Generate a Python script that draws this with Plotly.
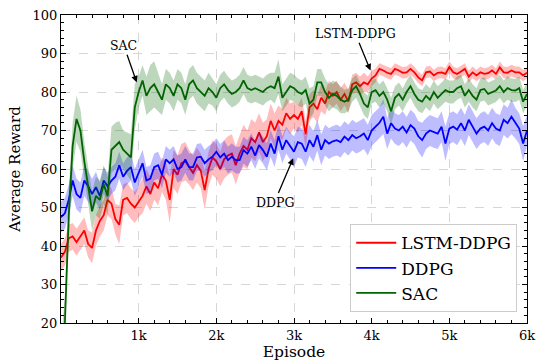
import plotly.graph_objects as go

episodes = list(range(0, 6001, 50))

sac_mean = [
    8, 20, 48, 66, 73, 70, 62, 56, 49, 53,
    52, 56, 53, 65, 66, 67, 65, 64, 63, 76,
    80, 83, 79, 81, 82, 80, 78, 82, 81, 79,
    82, 81, 78, 82, 83, 81, 80, 79, 81, 80,
    78.5, 81, 82, 80.5, 79.5, 80, 81, 83, 81, 80.5,
    81, 80.5, 80, 81, 81.5, 81, 84, 78.5, 80, 81.5,
    81, 80, 79.5, 80.5, 77, 78, 82.5, 82.5, 80, 78.5,
    79.5, 79, 78, 77.5, 78, 80.5, 81.5, 79.5, 77, 76,
    80, 80.5, 79, 80, 78, 75, 78.5, 79.5, 78, 80,
    81.5, 79.5, 78, 77.5, 79, 78, 80, 78.5, 79.5, 80.5,
    80, 80, 81, 81.5, 79, 80.5, 79, 78, 80.5, 80.8,
    79.5, 80, 80.4, 81.5, 80, 81, 80.5, 80.4, 81, 77.5,
    79.5,
]
sac_hw = [
    7, 7, 6, 6, 6, 5.5, 5, 5, 5, 5,
    5, 5, 5, 6, 6, 5.5, 5, 5.5, 6, 6,
    4, 4, 5, 6, 6, 5, 4, 4, 4, 4,
    4, 4, 4, 4, 4, 4, 4, 4, 4, 3.5,
    3.5, 3.5, 3.5, 3.5, 3.5, 3.5, 3.5, 3.5, 3.5, 3.5,
    3.5, 3.5, 3.5, 3.5, 3.5, 4, 4.5, 3.5, 3.5, 3.5,
    3.5, 3.5, 3.5, 3.5, 4, 3.5, 3.5, 3.5, 3.5, 3.5,
    3.5, 3.5, 3.5, 3, 3, 3, 3, 3, 3, 3,
    3, 3, 3, 3, 3, 3.5, 3, 3, 3, 3,
    3, 3, 3, 3, 3, 3, 3, 3, 3, 3,
    3, 3, 3, 3, 3, 3, 3, 3, 3, 3,
    3, 3, 3, 3, 3, 3, 3, 3, 3, 3,
    3,
]

lstm_mean = [
    37, 38.5, 42, 42.5, 41, 42.5, 44, 40.5, 39.5, 44,
    46.5, 48, 52, 51, 47, 45.5, 52, 52.5, 51, 50,
    51.5, 53, 55.5, 53.5, 56.5, 55, 58.5, 57, 52, 60,
    58.5, 61.5, 62, 60.5, 59, 61, 59.5, 54.5, 60, 63,
    62, 60, 62.5, 63.5, 64, 61, 64, 66, 65, 68,
    67, 69.5, 67, 68.5, 72.5, 70, 72.5, 71.5, 74.5, 73,
    74, 73, 75, 69, 76, 77, 75.5, 78.5, 77, 80,
    79, 80, 78, 79.5, 77.5, 82, 82.5, 81.5, 82.5, 82,
    83.5, 84.3, 86, 85.6, 85, 84.7, 86, 85.6, 85, 85.1,
    86, 85.1, 83.8, 83, 85.1, 85.3, 84.3, 85, 85.1, 84.7,
    86.5, 85.1, 84.7, 85.3, 86, 84, 85.1, 84.3, 85.1, 84.7,
    84.9, 85.6, 84.7, 86.4, 85.1, 85, 85.6, 85.1, 85.1, 84.3,
    85,
]
lstm_hw = [
    3.5, 3.5, 3.5, 3.5, 3.5, 3.5, 3.5, 3.5, 4, 4,
    4, 4, 4, 4, 4, 5, 4, 4, 4, 4,
    4, 4.5, 4.5, 4.5, 4.5, 4.5, 4.5, 5, 6, 5,
    5, 5, 5, 4.5, 4.5, 4.5, 4.5, 5, 4.5, 4.5,
    4.5, 4.5, 5, 5, 5, 5, 5, 5.5, 5, 5,
    5, 5, 5, 4.5, 4.5, 4.5, 4, 4, 4, 4,
    3.5, 3.5, 3.5, 3.5, 3.5, 3.5, 3.5, 3.5, 3, 3,
    3, 3, 3, 3, 3, 2.5, 2.5, 2.5, 2.5, 2,
    2, 1.8, 1.5, 1.5, 1.5, 1.5, 1.5, 1.5, 1.5, 1.5,
    1.5, 1.5, 1.5, 1.5, 1.5, 1.5, 1.5, 1.5, 1.5, 1.5,
    1.5, 1.5, 1.5, 1.5, 1.5, 1.5, 1.5, 1.5, 1.5, 1.5,
    1.5, 1.5, 1.5, 1.5, 1.5, 1.5, 1.5, 1.5, 1.5, 1.5,
    1.5,
]

ddpg_mean = [
    47.5, 48.5, 52, 57, 53.5, 52.5, 57, 55.5, 53.5, 55.3,
    53, 57, 55.5, 57, 58, 61, 58, 59.5, 60.5, 56.5,
    59, 61.5, 57, 57.5, 60.5, 61, 58.5, 62.5, 61.5, 62.5,
    60, 60.5, 62.5, 60.5, 60.5, 63, 63.2, 61.5, 62.5, 63.2,
    64.5, 63, 64, 62.3, 63.2, 62.3, 62.3, 64.9, 64, 65.8,
    63.5, 66.2, 64.9, 63.2, 66.6, 64, 68.5, 65, 67.5, 66,
    64.5, 67, 66.6, 64.5, 67.5, 65.8, 68.8, 65, 67.5, 66.6,
    67.2, 67.5, 67, 68.4, 67.5, 68.8, 68, 68.5, 69.2, 67.5,
    70, 71, 72, 73.6, 69.2, 71.9, 70.5, 70, 71, 69.5,
    71.4, 70.5, 68.5, 67.5, 69.2, 70, 69.5, 69.2, 71, 66.6,
    70.5, 71, 70.2, 71.9, 70, 72.8, 71, 69.2, 70.5, 71,
    70, 71.9, 70.5, 70, 72.8, 71.9, 73.6, 71.9, 70.5, 66.6,
    70,
]
ddpg_hw = [
    4, 4, 4, 4, 4, 4, 4, 4, 4, 4,
    3.5, 3.5, 3.5, 3.5, 3.5, 3.5, 3.5, 3.5, 3.5, 3.5,
    3.5, 3.5, 3.5, 3.5, 3.5, 3.5, 3.5, 3.5, 3.5, 3.5,
    3.5, 3.5, 3.5, 3.5, 3.5, 3.5, 3.5, 3.5, 3.5, 3.5,
    3.5, 3.5, 3.5, 3.5, 3.5, 3.5, 3.5, 3.5, 3.5, 3.5,
    3.5, 3.5, 3.5, 3.5, 3.5, 3.5, 3.5, 3.5, 3.5, 3.5,
    4, 4, 4, 4, 4, 4, 4, 4, 4, 4,
    4, 4, 4, 4, 4, 4, 4, 4, 4, 4,
    4, 4, 4, 4.5, 4, 4, 4, 4, 4, 4,
    4, 4, 4, 4.5, 4, 4, 4, 4, 4, 4.5,
    4, 4, 4, 4, 4, 4, 4, 4, 4, 4,
    4, 4, 4, 4, 4, 4, 4.5, 4, 4, 4.5,
    4,
]

series_names = ["LSTM-DDPG", "DDPG", "SAC"]
series_means = [lstm_mean, ddpg_mean, sac_mean]
series_hws = [lstm_hw, ddpg_hw, sac_hw]
line_colors = ["#ff0000", "#0000ff", "#006400"]
band_colors = ["rgba(255,0,0,0.26)", "rgba(0,0,255,0.26)", "rgba(0,100,0,0.26)"]

x_tickvals = [1000, 2000, 3000, 4000, 5000, 6000]
x_ticktext = ["1k", "2k", "3k", "4k", "5k", "6k"]
y_tickvals = [20, 30, 40, 50, 60, 70, 80, 90, 100]

FONT = "DejaVu Serif, Liberation Serif, serif"

fig = go.Figure()
for name, mean, hw, lc, bc in zip(series_names, series_means, series_hws, line_colors, band_colors):
    upper = [m + h for m, h in zip(mean, hw)]
    lower = [m - h for m, h in zip(mean, hw)]
    fig.add_trace(go.Scatter(
        x=episodes + episodes[::-1], y=upper + lower[::-1],
        fill="toself", fillcolor=bc, line=dict(width=0), mode="lines",
        showlegend=False, hoverinfo="skip"))
    fig.add_trace(go.Scatter(
        x=episodes, y=mean, mode="lines", name=name,
        line=dict(color=lc, width=1.8)))

annots = [
    dict(text="SAC", x=975, y=82.5, ax=810, ay=92),
    dict(text="LSTM-DDPG", x=3985, y=85.6, ax=3790, ay=95.1),
    dict(text="DDPG", x=2990, y=62.8, ax=2750, ay=51.4),
]
for a in annots:
    fig.add_annotation(
        x=a["x"], y=a["y"], ax=a["ax"], ay=a["ay"], axref="x", ayref="y",
        xref="x", yref="y", text=a["text"], showarrow=True,
        arrowhead=2, arrowsize=1, arrowwidth=1.3, arrowcolor="black",
        font=dict(family=FONT, size=12.5, color="black"))

axis_common = dict(
    showline=True, linecolor="black", linewidth=1, mirror="ticks",
    ticks="inside", ticklen=5, tickwidth=1, tickcolor="black",
    showgrid=True, gridcolor="#d6d6d6", griddash="dash", gridwidth=0.8,
    zeroline=False, tickfont=dict(family=FONT, size=13, color="black"),
    ticklabeloverflow="allow",
)

fig.update_xaxes(
    range=[0, 6000], tickvals=x_tickvals, ticktext=x_ticktext,
    minor=dict(ticks="inside", ticklen=3, dtick=200, tick0=0, tickcolor="black", showgrid=False),
    title=dict(text="Episode", font=dict(family=FONT, size=15.5, color="black"), standoff=0),
    **axis_common)
fig.update_yaxes(
    range=[20, 100], tickvals=y_tickvals,
    minor=dict(ticks="inside", ticklen=3, dtick=2, tick0=0, tickcolor="black", showgrid=False),
    title=dict(text="Average Reward", font=dict(family=FONT, size=15, color="black"), standoff=8),
    **axis_common)

fig.update_layout(
    width=543, height=362,
    margin=dict(l=61, r=8, t=14, b=39),
    paper_bgcolor="white", plot_bgcolor="white",
    legend=dict(
        x=0.979, y=0.035, xanchor="right", yanchor="bottom",
        bgcolor="white", bordercolor="#cccccc", borderwidth=1,
        font=dict(family=FONT, size=17, color="black"),
        tracegroupgap=0, itemwidth=40),
    font=dict(family=FONT),
)

fig.write_html("out.html", config={"displayModeBar": False},
               post_script="document.body.style.margin='0';")
